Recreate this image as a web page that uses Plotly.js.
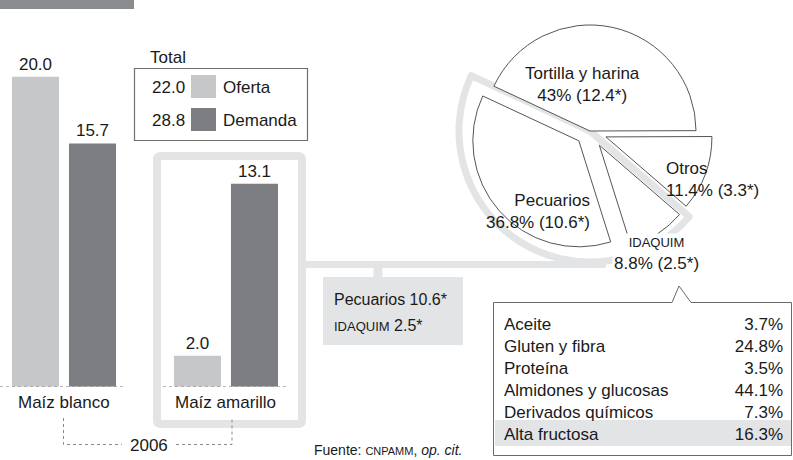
<!DOCTYPE html>
<html><head><meta charset="utf-8">
<script src="https://cdn.plot.ly/plotly-3.0.1.min.js"></script>
<style>html,body{margin:0;padding:0;background:#fff}#chart{width:793px;height:460px}</style>
</head><body><div id="chart"></div>
<script>
// ---- data ----
const barCategories = ['Maíz blanco', 'Maíz amarillo'];
const ofertaValues = [20.0, 2.0];
const demandaValues = [15.7, 13.1];
const seriesNames = ['Oferta', 'Demanda'];
const seriesTotals = [22.0, 28.8];
const yearLabel = '2006';
const pieLabels = ['Tortilla y harina', 'Otros', 'IDAQUIM', 'Pecuarios'];
const pieShares = [43, 11.4, 8.8, 36.8];
const pieVolumes = [12.4, 3.3, 2.5, 10.6];
const idaquimItems = ['Aceite', 'Gluten y fibra', 'Proteína', 'Almidones y glucosas', 'Derivados químicos', 'Alta fructosa'];
const idaquimShares = [3.7, 24.8, 3.5, 44.1, 7.3, 16.3];
const highlightedItem = 'Alta fructosa';

// ---- helpers / styles ----
const W = 793, H = 460;
const X = p => p / W;
const Y = p => 1 - p / H;
const FONT = '"Liberation Sans", Arial, Helvetica, sans-serif';
const C_LIGHT = '#c6c7c9', C_DARK = '#7d7e82', C_BAND = '#e3e4e6', C_TEXT = '#1a1a1a', C_LINE = '#555555';
const ROT = -65;
const TSIZE = 17;
const CLEAR = 'rgba(0,0,0,0)';

const shareText = idaquimShares.map(v => v.toFixed(1) + '%');

// table geometry (pixels)
const TAB_TOP = 309, ROW_H = 22;
const hiIdx = idaquimItems.indexOf(highlightedItem);

const traces = [
  {type: 'bar', name: seriesNames[0], x: barCategories, y: ofertaValues,
   marker: {color: C_LIGHT}, texttemplate: '%{y:.1f}', textposition: 'outside',
   textfont: {size: TSIZE, color: C_TEXT, family: FONT}, cliponaxis: false, hoverinfo: 'skip'},
  {type: 'bar', name: seriesNames[1], x: barCategories, y: demandaValues,
   marker: {color: C_DARK}, texttemplate: '%{y:.1f}', textposition: 'outside',
   textfont: {size: TSIZE, color: C_TEXT, family: FONT}, cliponaxis: false, hoverinfo: 'skip'},
  // highlight band around Pecuarios + IDAQUIM (the maíz amarillo uses)
  {type: 'pie', labels: [pieLabels[0], pieLabels[1], pieLabels[2] + ' + ' + pieLabels[3]],
   values: [pieShares[0], pieShares[1], pieShares[2] + pieShares[3]],
   sort: false, direction: 'clockwise', rotation: ROT, textinfo: 'none', hoverinfo: 'skip',
   marker: {colors: [CLEAR, CLEAR, CLEAR], line: {color: C_BAND, width: [0, 0, 7]}},
   domain: {x: [X(459), X(721)], y: [Y(262), Y(0)]}},
  {type: 'pie', labels: pieLabels, values: pieShares, sort: false, direction: 'clockwise',
   rotation: ROT, pull: [0, 0.16, 0.16, 0.14], textinfo: 'none', hoverinfo: 'skip',
   marker: {colors: pieLabels.map(() => '#ffffff'), line: {color: C_LINE, width: 1}},
   domain: {x: [X(467), X(713)], y: [Y(254), Y(8)]}},
  {type: 'table', domain: {x: [X(496), X(791)], y: [Y(455), Y(TAB_TOP)]},
   columnwidth: [200, 95],
   header: {values: [[idaquimItems[0]], [shareText[0]]], height: ROW_H, align: ['left', 'right'],
            font: {family: FONT, size: TSIZE, color: C_TEXT},
            fill: {color: CLEAR}, line: {color: CLEAR, width: 0}},
   cells: {values: [idaquimItems.slice(1), shareText.slice(1)],
           align: ['left', 'right'], height: ROW_H,
           font: {family: FONT, size: TSIZE, color: C_TEXT},
           fill: {color: CLEAR}, line: {color: CLEAR, width: 0}}}
];

function roundRect(x0, y0, x1, y1, r) {
  return `M${X(x0 + r)},${Y(y0)} L${X(x1 - r)},${Y(y0)} Q${X(x1)},${Y(y0)} ${X(x1)},${Y(y0 + r)} ` +
         `L${X(x1)},${Y(y1 - r)} Q${X(x1)},${Y(y1)} ${X(x1 - r)},${Y(y1)} L${X(x0 + r)},${Y(y1)} ` +
         `Q${X(x0)},${Y(y1)} ${X(x0)},${Y(y1 - r)} L${X(x0)},${Y(y0 + r)} Q${X(x0)},${Y(y0)} ${X(x0 + r)},${Y(y0)} Z`;
}

const dashC = '#8a8a8a';
const P = {xref: 'paper', yref: 'paper'};
const shapes = [
  Object.assign({type: 'rect', x0: X(0), x1: X(134), y0: Y(9), y1: Y(0), fillcolor: '#8b8c8f', line: {width: 0}}, P),
  // frame around Maíz amarillo
  Object.assign({type: 'path', path: roundRect(157, 156, 302, 424, 4), line: {color: C_BAND, width: 8}, layer: 'below'}, P),
  // connector to the pie and to the amarillo box
  Object.assign({type: 'line', x0: X(302), x1: X(606), y0: Y(264.5), y1: Y(264.5), line: {color: C_BAND, width: 7}, layer: 'below'}, P),
  Object.assign({type: 'line', x0: X(378), x1: X(378), y0: Y(264), y1: Y(278), line: {color: C_BAND, width: 9}, layer: 'below'}, P),
  Object.assign({type: 'rect', x0: X(323), x1: X(463), y0: Y(345), y1: Y(277), fillcolor: C_BAND, line: {width: 0}, layer: 'below'}, P),
  // highlighted table row
  Object.assign({type: 'rect', x0: X(495), x1: X(791), y0: Y(TAB_TOP + hiIdx * ROW_H + 27), y1: Y(TAB_TOP + hiIdx * ROW_H + 1),
                 fillcolor: C_BAND, line: {width: 0}, layer: 'below'}, P),
  // baselines
  {type: 'line', xref: 'paper', yref: 'y', x0: X(0), x1: X(125), y0: 0, y1: 0, line: {color: dashC, width: 1, dash: '3px,3px'}},
  {type: 'line', xref: 'paper', yref: 'y', x0: X(163), x1: X(288), y0: 0, y1: 0, line: {color: dashC, width: 1, dash: '3px,3px'}},
  // year bracket
  Object.assign({type: 'path', path: `M${X(63.5)},${Y(418)} L${X(63.5)},${Y(444.5)} L${X(122)},${Y(444.5)}`, line: {color: dashC, width: 1, dash: '3px,3px'}}, P),
  Object.assign({type: 'path', path: `M${X(176)},${Y(444.5)} L${X(232)},${Y(444.5)} L${X(232)},${Y(418)}`, line: {color: dashC, width: 1, dash: '3px,3px'}}, P),
  // legend box and swatches
  Object.assign({type: 'rect', x0: X(134.5), x1: X(307.5), y0: Y(140.5), y1: Y(68.5), line: {color: '#6f6f6f', width: 1.2}}, P),
  Object.assign({type: 'rect', x0: X(191), x1: X(216), y0: Y(98), y1: Y(75), fillcolor: C_LIGHT, line: {width: 0}}, P),
  Object.assign({type: 'rect', x0: X(191), x1: X(216), y0: Y(131), y1: Y(108), fillcolor: C_DARK, line: {width: 0}}, P),
  // callout box
  Object.assign({type: 'path',
   path: `M${X(493.5)},${Y(302.5)} L${X(672)},${Y(302.5)} L${X(679)},${Y(286)} L${X(691)},${Y(302.5)} L${X(791.5)},${Y(302.5)} L${X(791.5)},${Y(455.5)} L${X(493.5)},${Y(455.5)} Z`,
   line: {color: '#6a6a6a', width: 1}}, P)
];

const ann = (x, y, text, opt = {}) => Object.assign({xref: 'paper', yref: 'paper', x: X(x), y: Y(y), text,
  showarrow: false, xanchor: 'center', yanchor: 'middle', font: {family: FONT, size: TSIZE, color: C_TEXT}}, opt);
const pct = i => `${pieShares[i]}% (${pieVolumes[i].toFixed(1)}*)`;

const annotations = [
  {xref: 'x', yref: 'paper', x: barCategories[0], y: Y(402), text: barCategories[0], showarrow: false, yanchor: 'middle', font: {family: FONT, size: TSIZE, color: C_TEXT}},
  {xref: 'x', yref: 'paper', x: barCategories[1], y: Y(402), text: barCategories[1], showarrow: false, yanchor: 'middle', font: {family: FONT, size: TSIZE, color: C_TEXT}},
  ann(149, 445, yearLabel),
  ann(148, 57, 'Total', {xanchor: 'left'}),
  ann(187, 87, seriesTotals[0].toFixed(1), {xanchor: 'right'}),
  ann(187, 120, seriesTotals[1].toFixed(1), {xanchor: 'right'}),
  ann(221, 87, seriesNames[0], {xanchor: 'left'}),
  ann(221, 120, seriesNames[1], {xanchor: 'left'}),
  ann(332, 299, `${pieLabels[3]} ${pieVolumes[3].toFixed(1)}*`, {xanchor: 'left', font: {family: FONT, size: 16, color: C_TEXT}}),
  ann(332, 325, `<span style="font-size:13px">${pieLabels[2]}</span> ${pieVolumes[2].toFixed(1)}*`, {xanchor: 'left', font: {family: FONT, size: 16, color: C_TEXT}}),
  ann(312, 450, 'Fuente: <span style="font-size:11px">CNPAMM</span>, <i>op. cit.</i>', {xanchor: 'left', font: {family: FONT, size: 14, color: C_TEXT}}),
  ann(582, 85, `${pieLabels[0]}<br>${pct(0)}`),
  ann(664, 180, `${pieLabels[1]}<br>${pct(1)}`, {xanchor: 'left', align: 'left'}),
  ann(656, 254, `<span style="font-size:13px">${pieLabels[2]}</span><br>${pct(2)}`, {bgcolor: '#ffffff'}),
  ann(592, 211, `${pieLabels[3]}<br>${pct(3)}`, {xanchor: 'right', align: 'right'})
];

const layout = {
  width: W, height: H, margin: {l: 0, r: 0, t: 0, b: 0}, paper_bgcolor: '#ffffff', plot_bgcolor: 'rgba(0,0,0,0)',
  showlegend: false, barmode: 'group', bargap: 0.296, bargroupgap: 0.175,
  font: {family: FONT, color: C_TEXT},
  xaxis: {domain: [0, X(300)], range: [-0.395, 1.457], visible: false, fixedrange: true},
  yaxis: {domain: [Y(386.7), 1], range: [0, 24.96], visible: false, fixedrange: true},
  shapes, annotations
};
Plotly.newPlot('chart', traces, layout, {staticPlot: true, displayModeBar: false});
</script></body></html>
